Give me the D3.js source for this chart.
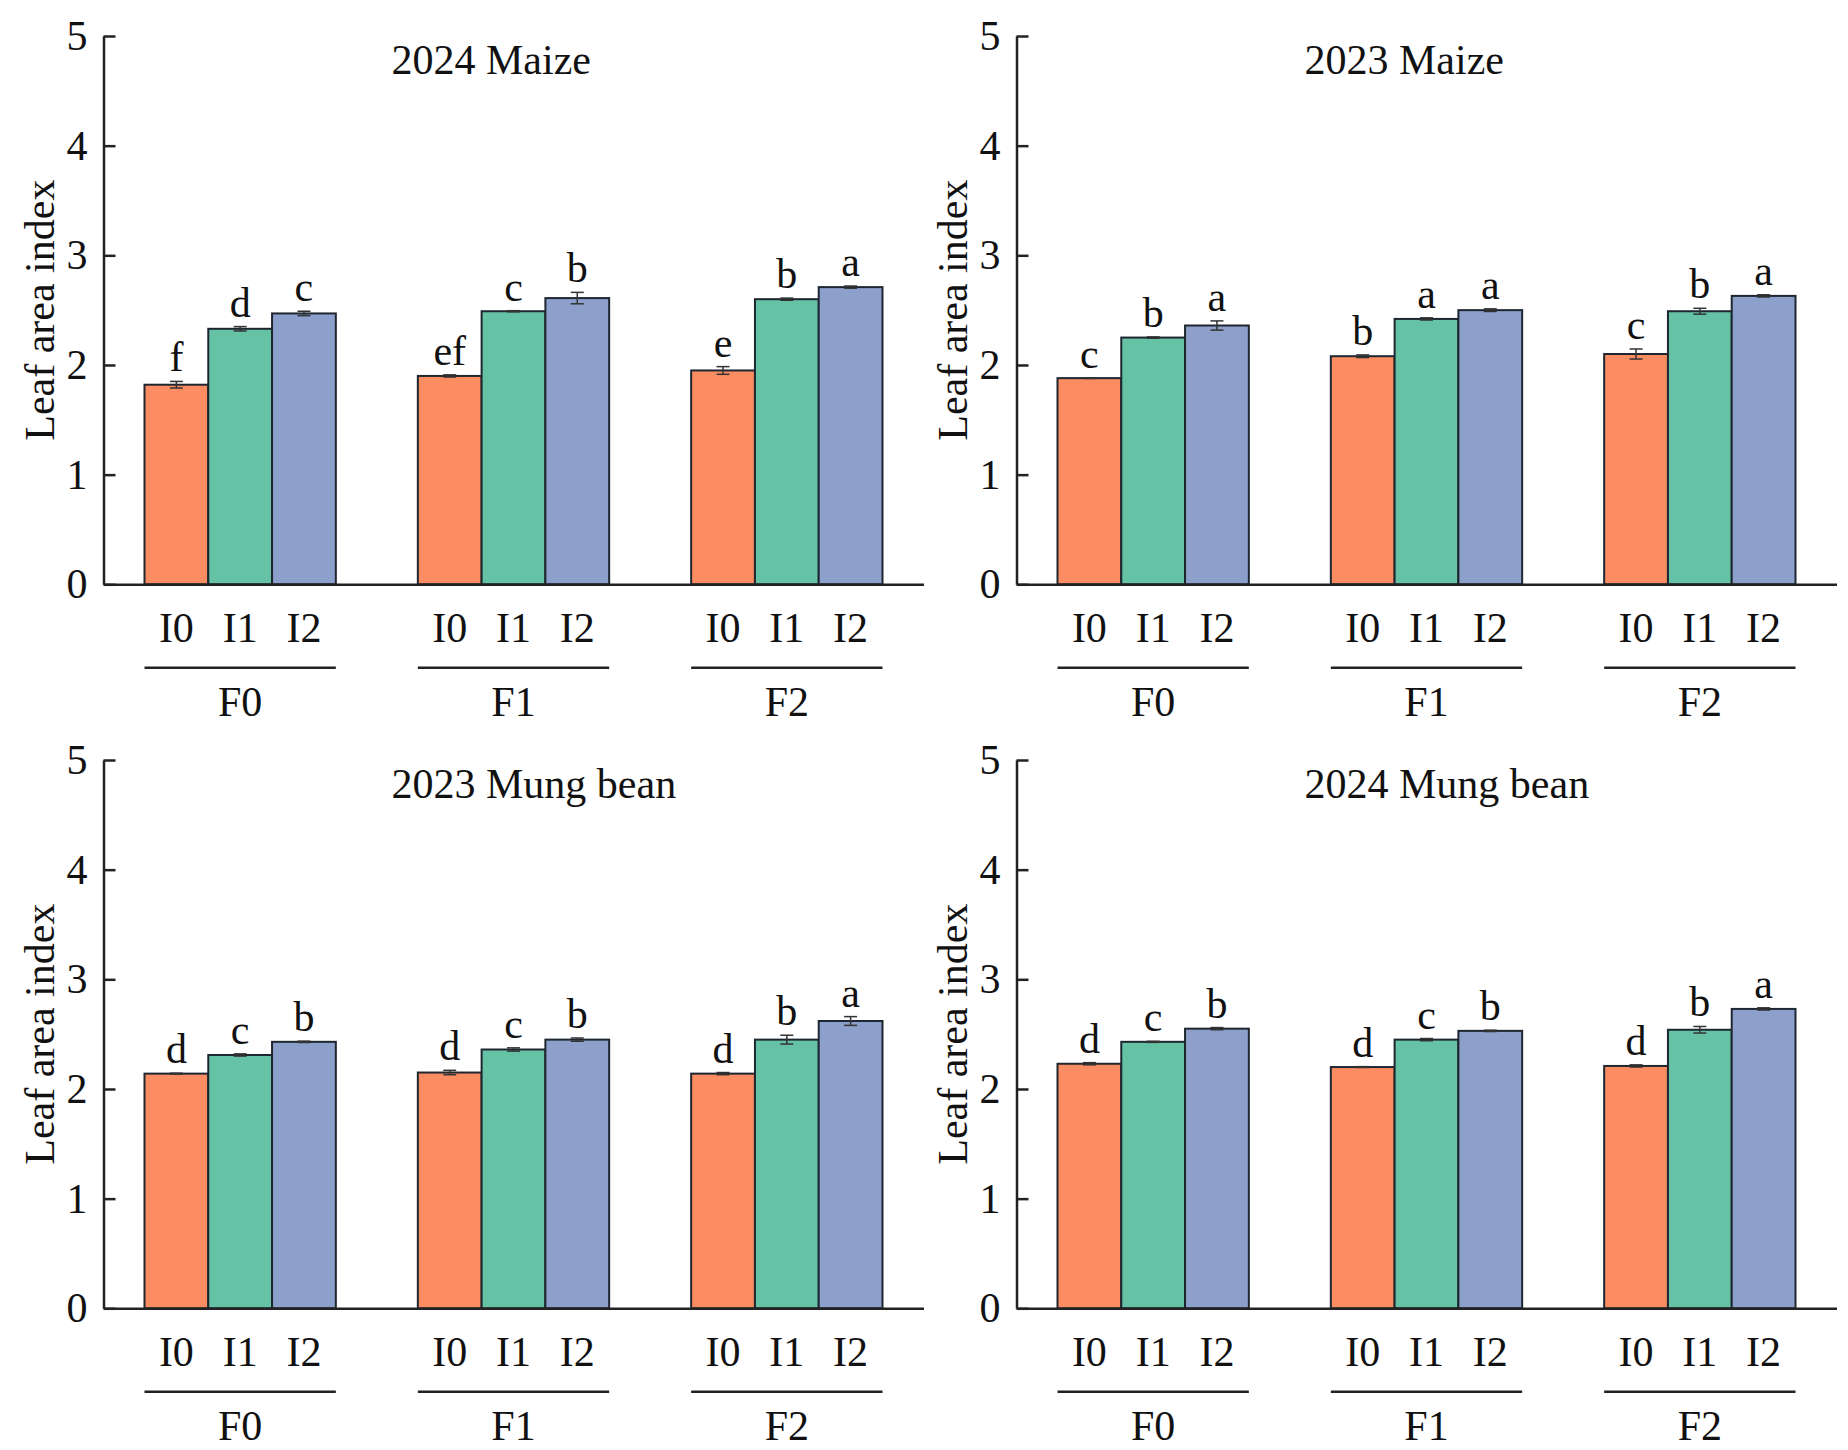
<!DOCTYPE html>
<html>
<head>
<meta charset="utf-8">
<script src="https://cdn.jsdelivr.net/npm/d3@7"></script>
<style>
    body { margin: 0; background: #fff; }
    text { font-family: 'Liberation Serif', 'Times New Roman', serif; fill: #111; }
</style>
</head>
<body>
<div id="chart"></div>
<script>
'use strict';

var fertLevels = ['F0', 'F1', 'F2'];
var irrLevels = ['I0', 'I1', 'I2'];
var yTicks = [0, 1, 2, 3, 4, 5];
var panelTitles = ['2024 Maize', '2023 Maize', '2023 Mung bean', '2024 Mung bean'];

// values in order F0-I0, F0-I1, F0-I2, F1-I0 ... F2-I2
var maize2024Mean = [1.82, 2.33, 2.47, 1.90, 2.49, 2.61, 1.95, 2.60, 2.71];
var maize2024Se = [0.03, 0.02, 0.02, 0.01, 0.005, 0.052, 0.035, 0.01, 0.01];
var maize2024Letters = ['f', 'd', 'c', 'ef', 'c', 'b', 'e', 'b', 'a'];

var maize2023Mean = [1.88, 2.25, 2.36, 2.08, 2.42, 2.50, 2.10, 2.49, 2.63];
var maize2023Se = [0.003, 0.006, 0.042, 0.012, 0.01, 0.012, 0.046, 0.027, 0.01];
var maize2023Letters = ['c', 'b', 'a', 'b', 'a', 'a', 'c', 'b', 'a'];

var mung2023Mean = [2.14, 2.31, 2.43, 2.15, 2.36, 2.45, 2.14, 2.45, 2.62];
var mung2023Se = [0.004, 0.01, 0.006, 0.02, 0.015, 0.015, 0.01, 0.04, 0.04];
var mung2023Letters = ['d', 'c', 'b', 'd', 'c', 'b', 'd', 'b', 'a'];

var mung2024Mean = [2.23, 2.43, 2.55, 2.20, 2.45, 2.53, 2.21, 2.54, 2.73];
var mung2024Se = [0.01, 0.005, 0.01, 0.004, 0.01, 0.006, 0.01, 0.03, 0.01];
var mung2024Letters = ['d', 'c', 'b', 'd', 'c', 'b', 'd', 'b', 'a'];

var barColors = ['#fc8d62', '#66c2a5', '#8da0cb'];

var panels = [
    { title: panelTitles[0], mean: maize2024Mean, se: maize2024Se, letters: maize2024Letters },
    { title: panelTitles[1], mean: maize2023Mean, se: maize2023Se, letters: maize2023Letters },
    { title: panelTitles[2], mean: mung2023Mean, se: mung2023Se, letters: mung2023Letters },
    { title: panelTitles[3], mean: mung2024Mean, se: mung2024Se, letters: mung2024Letters }
];

var width = 1848;
var height = 1450;
var plotW = 820;
var plotH = 548.3;
var colLeft = [103.5, 1016.5];
var rowTop = [36, 760];
var fontSize = 42;

var svg = d3.select('#chart')
            .append('svg')
            .attr('width', width)
            .attr('height', height);

var x0 = d3.scaleBand()
    .domain(fertLevels)
    .range([0, plotW])
    .paddingInner(0.3)
    .paddingOuter(0.15);

var x1 = d3.scaleBand()
    .domain(irrLevels)
    .range([0, x0.bandwidth()]);

var y = d3.scaleLinear()
    .domain([0, 5])
    .range([plotH, 0]);

var color = d3.scaleOrdinal()
    .domain(irrLevels)
    .range(barColors);

panels.forEach(function(p, idx) {
    var g = svg.append('g')
        .attr('transform', 'translate(' + colLeft[idx % 2] + ',' + rowTop[Math.floor(idx / 2)] + ')');

    var rows = [];
    fertLevels.forEach(function(f, fi) {
        irrLevels.forEach(function(ir, ii) {
            var k = fi * 3 + ii;
            rows.push({ f: f, i: ir, mean: p.mean[k], se: p.se[k], letter: p.letters[k] });
        });
    });

    // bars
    g.selectAll('.bar')
        .data(rows)
        .enter()
        .append('rect')
        .attr('class', 'bar')
        .attr('x', function(d) { return x0(d.f) + x1(d.i); })
        .attr('y', function(d) { return y(d.mean); })
        .attr('width', x1.bandwidth())
        .attr('height', function(d) { return y(0) - y(d.mean); })
        .style('fill', function(d) { return color(d.i); })
        .style('stroke', '#1e2630')
        .style('stroke-width', 2);

    // error bars
    var capW = 13;
    var err = g.selectAll('.err')
        .data(rows)
        .enter()
        .append('g')
        .attr('class', 'err')
        .attr('transform', function(d) {
            return 'translate(' + (x0(d.f) + x1(d.i) + x1.bandwidth() / 2) + ',0)';
        })
        .style('stroke', '#333')
        .style('stroke-width', 1.5);

    err.append('line')
        .attr('x1', 0).attr('x2', 0)
        .attr('y1', function(d) { return y(d.mean - d.se); })
        .attr('y2', function(d) { return y(d.mean + d.se); });
    err.append('line')
        .attr('x1', -capW / 2).attr('x2', capW / 2)
        .attr('y1', function(d) { return y(d.mean + d.se); })
        .attr('y2', function(d) { return y(d.mean + d.se); });
    err.append('line')
        .attr('x1', -capW / 2).attr('x2', capW / 2)
        .attr('y1', function(d) { return y(d.mean - d.se); })
        .attr('y2', function(d) { return y(d.mean - d.se); });

    // significance letters
    g.selectAll('.letter')
        .data(rows)
        .enter()
        .append('text')
        .attr('class', 'letter')
        .attr('x', function(d) { return x0(d.f) + x1(d.i) + x1.bandwidth() / 2; })
        .attr('y', function(d) { return y(d.mean + d.se) - 10; })
        .attr('text-anchor', 'middle')
        .style('font-size', fontSize + 'px')
        .text(function(d) { return d.letter; });

    // y axis, ticks on the inside
    var yAxis = g.append('g')
        .call(d3.axisLeft(y)
            .tickValues(yTicks)
            .tickFormat(d3.format('d'))
            .tickSizeInner(-12)
            .tickSizeOuter(0)
            .tickPadding(16));
    yAxis.selectAll('path, line')
        .style('stroke', '#222')
        .style('stroke-width', 2.5);
    yAxis.selectAll('text')
        .style('font-size', fontSize + 'px')
        .style('font-family', "'Liberation Serif', 'Times New Roman', serif")
        .style('fill', '#111');

    // x axis, only the baseline
    var xAxis = g.append('g')
        .attr('transform', 'translate(0,' + plotH + ')')
        .call(d3.axisBottom(x0).tickValues([]).tickSizeOuter(0));
    xAxis.select('path')
        .style('stroke', '#222')
        .style('stroke-width', 2.5);

    // I labels, underline and F labels
    g.selectAll('.ilabel')
        .data(rows)
        .enter()
        .append('text')
        .attr('class', 'ilabel')
        .attr('x', function(d) { return x0(d.f) + x1(d.i) + x1.bandwidth() / 2; })
        .attr('y', plotH + 58)
        .attr('text-anchor', 'middle')
        .style('font-size', fontSize + 'px')
        .text(function(d) { return d.i; });

    g.selectAll('.fline')
        .data(fertLevels)
        .enter()
        .append('line')
        .attr('class', 'fline')
        .attr('x1', function(f) { return x0(f); })
        .attr('x2', function(f) { return x0(f) + x0.bandwidth(); })
        .attr('y1', plotH + 83.5)
        .attr('y2', plotH + 83.5)
        .style('stroke', '#222')
        .style('stroke-width', 2.5);

    g.selectAll('.flabel')
        .data(fertLevels)
        .enter()
        .append('text')
        .attr('class', 'flabel')
        .attr('x', function(f) { return x0(f) + x0.bandwidth() / 2; })
        .attr('y', plotH + 132)
        .attr('text-anchor', 'middle')
        .style('font-size', fontSize + 'px')
        .text(function(f) { return f; });

    // title and y label
    g.append('text')
        .attr('x', 288)
        .attr('y', 38)
        .style('font-size', fontSize + 'px')
        .text(p.title);

    g.append('text')
        .attr('transform', 'translate(-50,' + (plotH / 2) + ') rotate(-90)')
        .attr('text-anchor', 'middle')
        .style('font-size', fontSize + 'px')
        .text('Leaf area index');
});
</script>
</body>
</html>
